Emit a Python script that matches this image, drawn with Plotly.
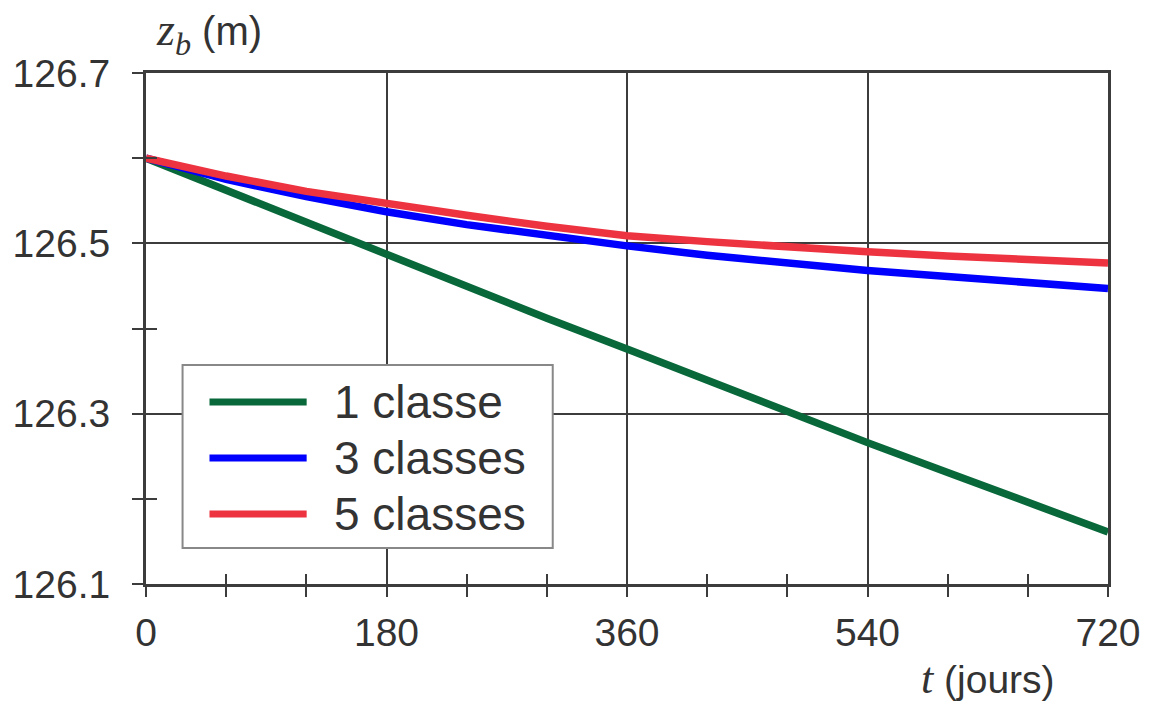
import plotly.graph_objects as go

# Temps (jours) et cote du fond z_b (m) pour chaque nombre de classes
t_jours = [0, 60, 120, 180, 240, 300, 360, 420, 480, 540, 600, 660, 720]
zb_1_classe = [126.600, 126.562, 126.524, 126.486, 126.449, 126.412, 126.376,
               126.339, 126.302, 126.266, 126.231, 126.196, 126.161]
zb_3_classes = [126.600, 126.575, 126.555, 126.537, 126.522, 126.509, 126.497,
                126.486, 126.476, 126.468, 126.461, 126.454, 126.447]
zb_5_classes = [126.600, 126.579, 126.561, 126.546, 126.533, 126.520, 126.509,
                126.502, 126.495, 126.490, 126.485, 126.481, 126.477]

series_names = ["1 classe", "3 classes", "5 classes"]
series_values = [zb_1_classe, zb_3_classes, zb_5_classes]
series_colors = ["#08683a", "#0000ff", "#ee3340"]

x_major = [0, 180, 360, 540, 720]
y_major = [126.1, 126.3, 126.5, 126.7]

TXT = "#333333"
AX = "#3c3c3c"
FONT = "Liberation Sans, Arial, sans-serif"
SERIF = "Liberation Serif, Times New Roman, serif"

fig = go.Figure()
for name, vals, col in zip(series_names, series_values, series_colors):
    fig.add_trace(go.Scatter(x=t_jours, y=vals, mode="lines", name=name,
                             line=dict(color=col, width=7.5), showlegend=False))

# transparent copy on the overlay axes so their inner tick halves get drawn
fig.add_trace(go.Scatter(x=t_jours, y=zb_1_classe, xaxis="x2", yaxis="y2",
                         mode="lines", line=dict(width=0, color="rgba(0,0,0,0)"),
                         hoverinfo="skip", showlegend=False))

fig.update_layout(
    width=1153, height=704,
    margin=dict(l=146, r=45, t=73, b=120),
    paper_bgcolor="white", plot_bgcolor="white",
    font=dict(family=FONT, size=39, color=TXT),
    xaxis=dict(range=[0, 720], tickvals=x_major, showgrid=True,
               gridcolor=AX, gridwidth=2, showline=True, linecolor=AX,
               linewidth=3, mirror=True, ticks="outside", ticklen=10,
               tickwidth=2, tickcolor=AX, ticklabelstandoff=2,
               minor=dict(dtick=60, tick0=0, ticks="outside", ticklen=10,
                          tickwidth=2, tickcolor=AX, showgrid=False),
               zeroline=False, tickfont=dict(size=39, color=TXT)),
    yaxis=dict(range=[126.1, 126.7], tickvals=y_major, showgrid=True,
               gridcolor=AX, gridwidth=2, showline=True, linecolor=AX,
               linewidth=3, mirror=True, ticks="outside", ticklen=11,
               tickwidth=2, tickcolor=AX, ticklabelstandoff=14,
               tickformat=".1f",
               minor=dict(dtick=0.1, tick0=126.1, ticks="outside", ticklen=11,
                          tickwidth=2, tickcolor=AX, showgrid=False),
               zeroline=False, tickfont=dict(size=39, color=TXT)),
    xaxis2=dict(overlaying="x", matches="x", range=[0, 720], dtick=60, tick0=0,
                ticks="inside", ticklen=10, tickwidth=2, tickcolor=AX,
                showticklabels=False, showgrid=False, showline=False,
                zeroline=False),
    yaxis2=dict(overlaying="y", matches="y", range=[126.1, 126.7], dtick=0.1,
                tick0=126.1, ticks="inside", ticklen=11, tickwidth=2,
                tickcolor=AX, showticklabels=False, showgrid=False,
                showline=False, zeroline=False),
)

# axis titles
fig.add_annotation(xref="paper", yref="paper", x=0.008, y=1.0, yshift=40,
                   xanchor="left", yanchor="middle", showarrow=False,
                   text=f"<span style='font-family:{SERIF};font-size:46px'><i>z</i><sub><i>b</i></sub></span> (m)",
                   font=dict(size=40, color=TXT))
fig.add_annotation(xref="paper", yref="paper", x=0.947, y=0.0, yshift=-94,
                   xanchor="right", yanchor="middle", showarrow=False,
                   text=f"<span style='font-family:{SERIF};font-size:44px'><i>t</i></span> (jours)",
                   font=dict(size=39, color=TXT))

# boxed key in the lower-left corner of the plot area
fig.add_shape(type="rect", xref="paper", yref="paper",
              x0=0.038, x1=0.4228, y0=0.0705, y1=0.4286,
              line=dict(color="#888888", width=2), fillcolor="white",
              layer="above")
key_rows = [0.356, 0.2466, 0.137]
for name, col, yr in zip(series_names, series_colors, key_rows):
    fig.add_shape(type="line", xref="paper", yref="paper",
                  x0=0.066, x1=0.167, y0=yr, y1=yr,
                  line=dict(color=col, width=7), layer="above")
    fig.add_annotation(xref="paper", yref="paper", x=0.193, y=yr,
                       xanchor="left", yanchor="middle", showarrow=False,
                       text=name, font=dict(size=46, color=TXT))

fig.write_html("out.html")
